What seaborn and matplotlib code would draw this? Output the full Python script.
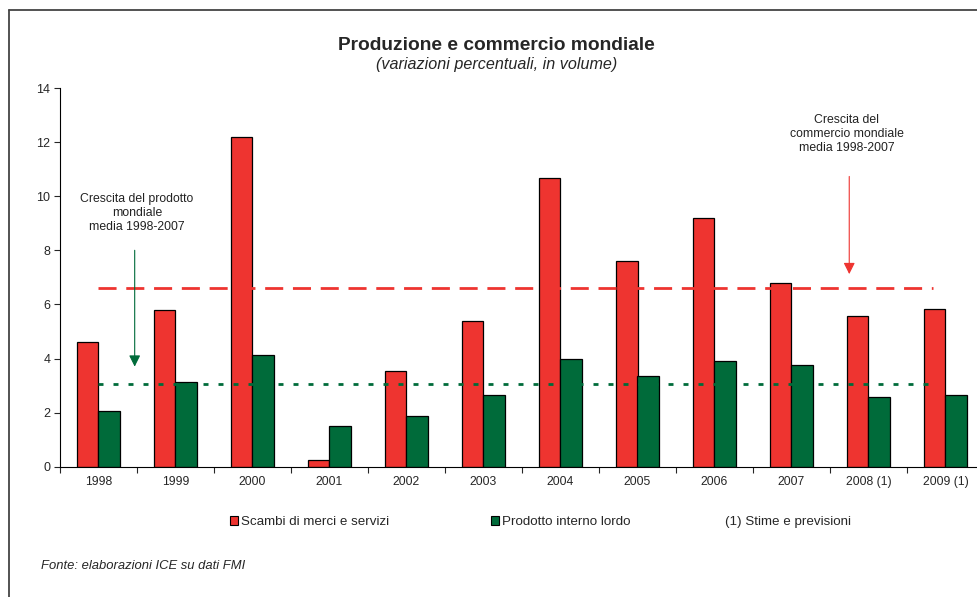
import numpy as np
import pandas as pd
import seaborn as sns
import matplotlib.pyplot as plt
from matplotlib.lines import Line2D
from matplotlib.ticker import FixedLocator

# data
anni = ['1998', '1999', '2000', '2001', '2002', '2003', '2004', '2005',
        '2006', '2007', '2008 (1)', '2009 (1)']
scambi = [4.6, 5.8, 12.2, 0.26, 3.55, 5.37, 10.68, 7.62, 9.19, 6.78, 5.57, 5.82]
pil = [2.05, 3.13, 4.14, 1.52, 1.88, 2.64, 3.97, 3.37, 3.91, 3.75, 2.58, 2.65]
media_scambi = 6.6
media_pil = 3.05
serie = ['Scambi di merci e servizi', 'Prodotto interno lordo']

ROSSO = '#EE3430'
VERDE = '#006B3A'

df = pd.DataFrame({
    'anno': anni * 2,
    'serie': [serie[0]] * len(anni) + [serie[1]] * len(anni),
    'valore': scambi + pil,
})

sns.set_style('white')
plt.rcParams['font.family'] = ['Liberation Sans', 'DejaVu Sans']

fig = plt.figure(figsize=(9.78, 5.97), dpi=100)
ax = fig.add_axes([60 / 978, 130.3 / 597, 924 / 978, 378.7 / 597])

sns.barplot(data=df, x='anno', y='valore', hue='serie', order=anni,
            hue_order=serie, palette=[ROSSO, VERDE], width=0.57,
            edgecolor='black', linewidth=0.9, saturation=1, ax=ax)
ax.get_legend().remove()

ax.set_xlim(-0.5, 11.5)
ax.set_ylim(0, 14)
ax.set_yticks(np.arange(0, 15, 2))
ax.set_xlabel('')
ax.set_ylabel('')
for s in ['top', 'right']:
    ax.spines[s].set_visible(False)
for s in ['left', 'bottom']:
    ax.spines[s].set_color('black')
    ax.spines[s].set_linewidth(0.8)

ax.xaxis.set_minor_locator(FixedLocator(np.arange(-0.5, 12, 1)))
ax.tick_params(axis='x', which='major', length=0, pad=7, labelsize=8.7)
ax.tick_params(axis='x', which='minor', length=4, width=0.8, direction='out',
               bottom=True)
ax.tick_params(axis='y', length=4, width=0.8, direction='out', left=True,
               pad=3, labelsize=9)

# medie 1998-2007
ax.hlines(media_scambi, 0, 10.84, color=ROSSO, lw=2, linestyles=(0, (6.5, 3.5)))
ax.hlines(media_pil, 0, 10.84, color=VERDE, lw=2, linestyles=(0, (1.8, 3.6)))

ax.annotate('', xy=(0.47, 3.7), xytext=(0.47, 8.0),
            arrowprops=dict(arrowstyle='-|>', color=VERDE, lw=0.8,
                            mutation_scale=17, shrinkA=0, shrinkB=0))
ax.annotate('', xy=(9.75, 7.12), xytext=(9.75, 10.73),
            arrowprops=dict(arrowstyle='-|>', color=ROSSO, lw=0.8,
                            mutation_scale=17, shrinkA=0, shrinkB=0))
ax.text(0.5, 9.37, 'Crescita del prodotto\nmondiale\nmedia 1998-2007',
        ha='center', va='center', fontsize=8.8, linespacing=1.25, color='#222222')
ax.text(9.72, 12.3, 'Crescita del\ncommercio mondiale\nmedia 1998-2007',
        ha='center', va='center', fontsize=8.8, linespacing=1.25, color='#222222')

# titoli
fig.text(0.508, 1 - 46 / 597, 'Produzione e commercio mondiale',
         ha='center', va='center', fontsize=13.8, fontweight='bold')
fig.text(0.508, 1 - 64 / 597, '(variazioni percentuali, in volume)',
         ha='center', va='center', fontsize=11.6, style='italic')

# legenda
handles = [plt.Rectangle((0, 0), 1, 1, fc=ROSSO, ec='black', lw=0.8),
           plt.Rectangle((0, 0), 1, 1, fc=VERDE, ec='black', lw=0.8)]
fig.legend(handles, serie, loc='center left', bbox_to_anchor=(230 / 978, 1 - 522 / 597),
           ncol=2, frameon=False, fontsize=9.6, handlelength=0.6, handleheight=0.6,
           handletextpad=0.2, columnspacing=7.7, borderpad=0, borderaxespad=0)
fig.text(725 / 978, 1 - 522 / 597, '(1) Stime e previsioni', ha='left',
         va='center', fontsize=9.6)
fig.text(41 / 978, 1 - 566 / 597, 'Fonte: elaborazioni ICE su dati FMI',
         ha='left', va='center', fontsize=9.4, style='italic')

# cornice
fig.add_artist(Line2D([8.5 / 978, 8.5 / 978], [0, 1 - 10 / 597],
                      transform=fig.transFigure, color='#444444', lw=1.3))
fig.add_artist(Line2D([8.5 / 978, 1], [1 - 10 / 597, 1 - 10 / 597],
                      transform=fig.transFigure, color='#444444', lw=1.3))

fig.savefig('out.png', dpi=100)
